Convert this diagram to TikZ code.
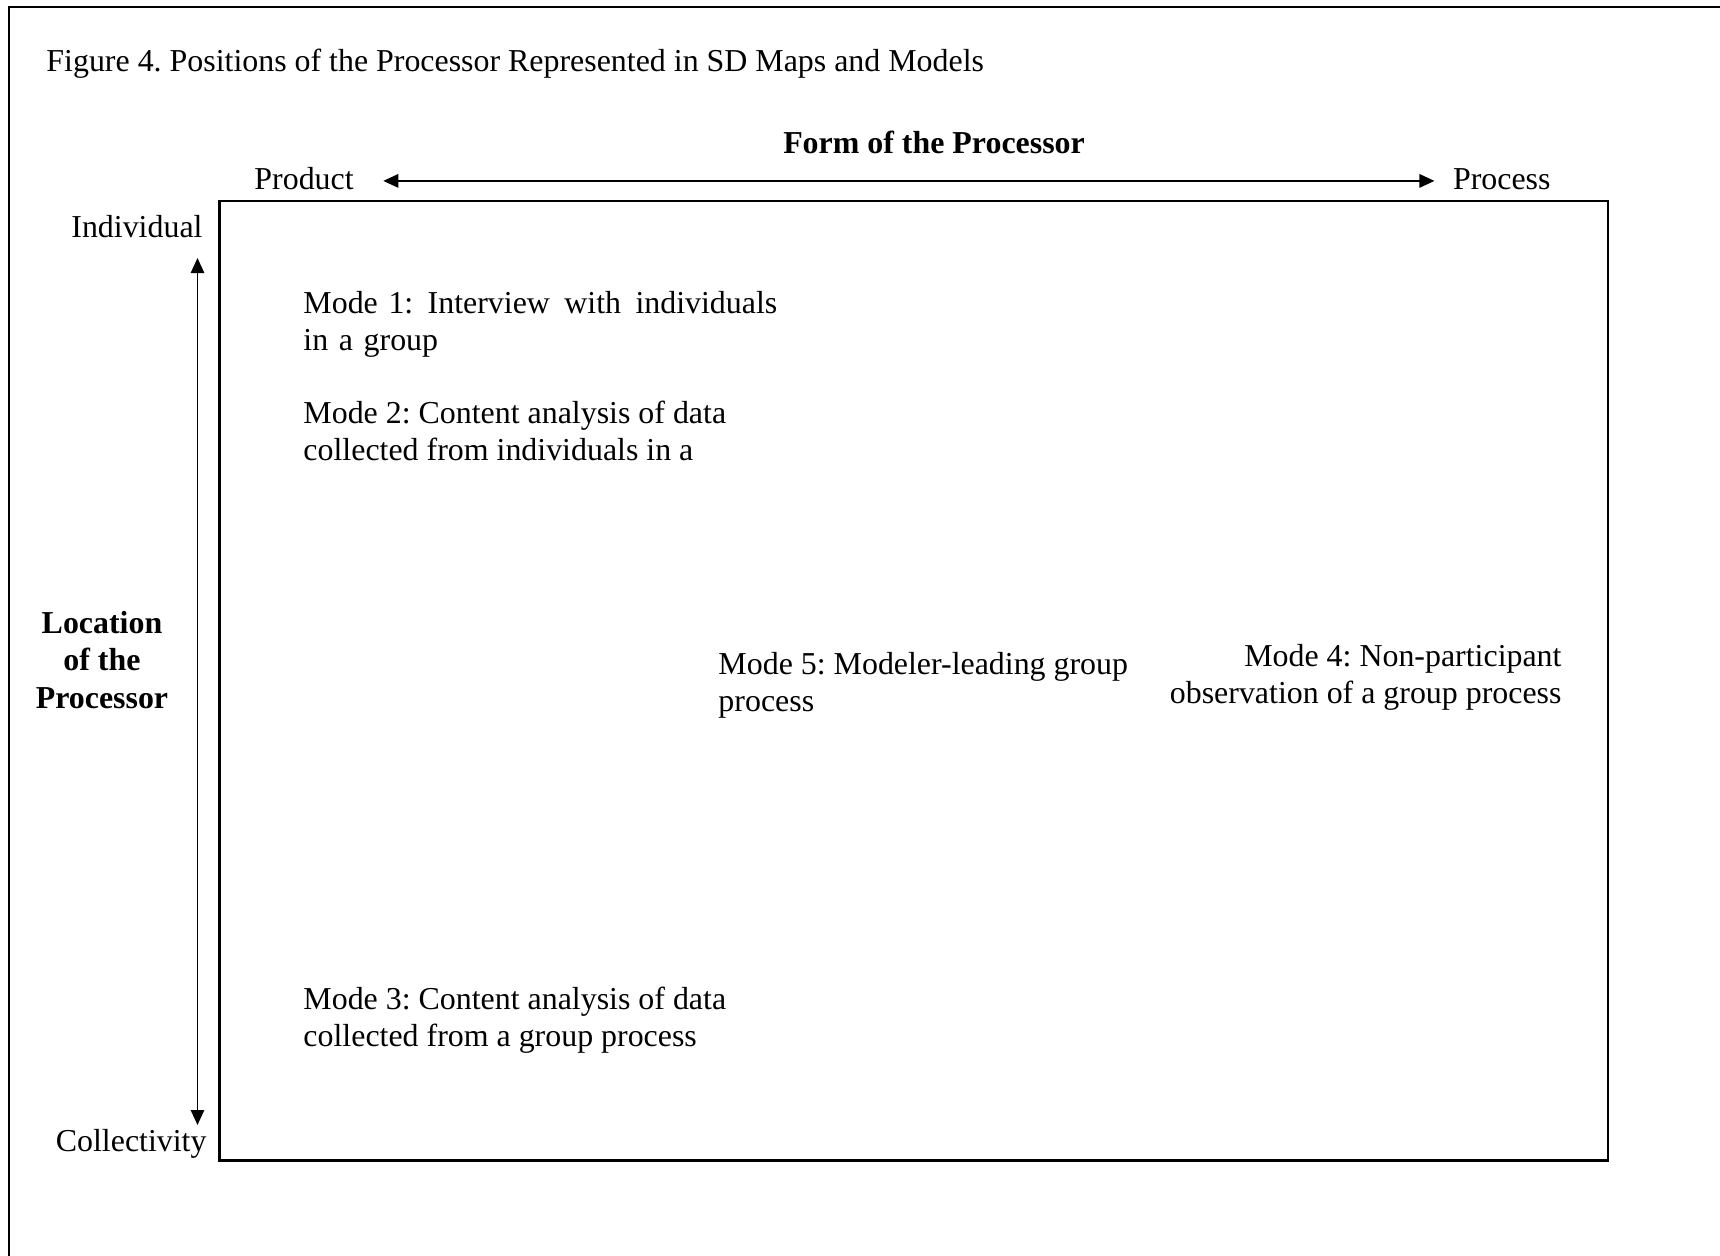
\documentclass[tikz,border=0pt]{standalone}
\usepackage{fontspec}
\setmainfont{Liberation Serif}
\frenchspacing
\usetikzlibrary{arrows.meta,positioning}
\tikzset{
  txt/.style={inner sep=0pt, font=\fontsize{13.4}{15.3}\selectfont},
  mode/.style={txt, align=left, anchor=north west},
  bold/.style={inner sep=0pt, font=\fontsize{13.4}{15.75}\selectfont\bfseries},
  axis/.style={line width=0.8pt, {Triangle[length=6.3pt,width=5.6pt]}-{Triangle[length=6.3pt,width=5.6pt]}}
}
\begin{document}
\begin{tikzpicture}[x=0.42pt,y=-0.42pt]
\useasboundingbox (0,0) rectangle (1720,1255);
% page frame, open to the right and bottom
\draw[line width=1.2pt] (9,1300) -- (9,7) -- (1760,7);

\node[txt, anchor=base west] (title) at (46,71) {Figure 4. Positions of the Processor Represented in SD Maps and Models};

% axes
\node[bold, anchor=base] (form) at (934,153) {Form of the Processor};
\node[txt, anchor=base west] (prod) at (254,189) {Product};
\node[txt, anchor=base east] (proc) at (1551,189) {Process};
\draw[axis] ([xshift=12.2pt,yshift=3.4pt]prod.base east) -- ([xshift=-7.6pt,yshift=3.4pt]proc.base west);

\node[txt, anchor=base east] (indiv) at (203,237) {Individual};
\node[txt, anchor=base east] (coll) at (207,1151) {Collectivity};
\coordinate (top) at (197.5,258);
\coordinate (bot) at (197.5,1125);
\draw[axis] (top) -- (bot);
\node[bold, align=center] (loc) at (102,660) {Location\\of the\\Processor};

\draw[line width=1pt] (219.4,200.8) rectangle (1608,1160.6);

% modes
\node[mode, text width=199pt] (m1) at (303,291) {Mode 1:\hfill Interview\hfill with\hfill individuals\\in a group};
\node[mode] (m2) at (303,401) {Mode 2: Content analysis of data\\collected from individuals in a};
\node[mode] (m5) at (718,652) {Mode 5: Modeler-leading group\\process};
\node[txt, align=right, anchor=north east] (m4) at (1562,644) {Mode 4: Non-participant\\observation of a group process};
\node[mode] (m3) at (303,987) {Mode 3: Content analysis of data\\collected from a group process};
\end{tikzpicture}
\end{document}
